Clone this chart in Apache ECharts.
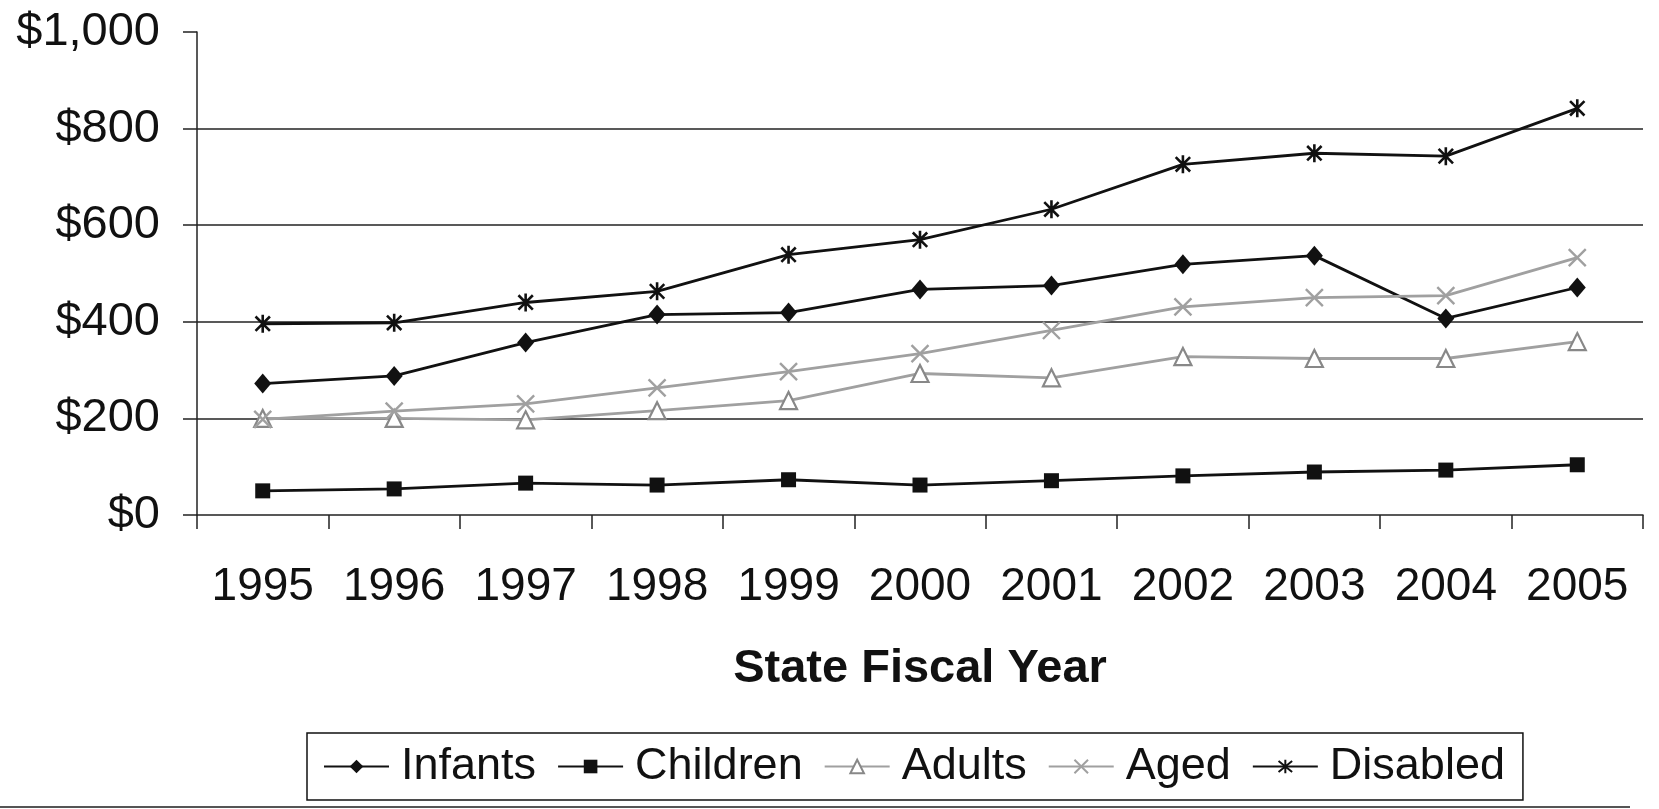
<!DOCTYPE html>
<html>
<head>
<meta charset="utf-8">
<title>Cost per Member by Eligibility Group</title>
<script src="https://cdn.jsdelivr.net/npm/echarts@6/dist/echarts.min.js"></script>
<style>
  html, body { margin: 0; padding: 0; background: #ffffff; }
  #chart { width: 1659px; height: 809px; }
</style>
</head>
<body>
<div id="chart"></div>
<script>
// State fiscal years on the category axis
const years = ['1995', '1996', '1997', '1998', '1999', '2000', '2001', '2002', '2003', '2004', '2005'];

// Monthly cost per eligible, dollars
const infants  = [272, 288, 357, 415, 419, 467, 475, 519, 537, 407, 471];
const children = [50, 54, 66, 62, 73, 62, 71, 81, 89, 93, 104];
const adults   = [200, 200, 197, 216, 237, 293, 284, 328, 324, 324, 359];
const aged     = [198, 215, 230, 263, 297, 334, 382, 431, 450, 454, 533];
const disabled = [396, 398, 440, 463, 539, 570, 633, 726, 749, 743, 842];

const FONT = '"Liberation Sans", Arial, Helvetica, sans-serif';
const BLACK = '#111111';
const GRAY = '#a0a0a0';

// Stroke-only marker shapes
const X_MARK = 'path://M0,0L16,16M16,0L0,16';
const STAR_MARK = 'path://M0,0L16,16M16,0L0,16M8,-2L8,18';

function lineSeries(name, data, color, width, symbol, size, itemStyle) {
  return {
    name: name,
    type: 'line',
    data: data,
    symbol: symbol,
    symbolSize: size,
    symbolKeepAspect: true,
    showSymbol: true,
    lineStyle: { color: color, width: width },
    itemStyle: itemStyle,
    emphasis: { disabled: true },
    z: 3
  };
}

const chart = echarts.init(document.getElementById('chart'), null, { renderer: 'canvas' });

chart.setOption({
  animation: false,
  backgroundColor: '#ffffff',
  textStyle: { fontFamily: FONT },
  grid: { left: 197, right: 16, top: 32, bottom: 294, containLabel: false },
  xAxis: {
    type: 'category',
    data: years,
    boundaryGap: true,
    name: 'State Fiscal Year',
    nameLocation: 'middle',
    nameGap: 131,
    nameTextStyle: { fontFamily: FONT, fontSize: 47, fontWeight: 'bold', color: '#111' },
    axisLine: { show: true, lineStyle: { color: '#222', width: 1.5 } },
    axisTick: { show: true, inside: false, length: 14, alignWithLabel: false, lineStyle: { color: '#222', width: 1.5 } },
    axisLabel: { fontFamily: FONT, fontSize: 46, color: '#111', margin: 49, interval: 0 },
    splitLine: { show: false }
  },
  yAxis: {
    type: 'value',
    min: 0,
    max: 1000,
    interval: 200,
    axisLine: { show: true, lineStyle: { color: '#222', width: 1.5 } },
    axisTick: { show: true, inside: false, length: 14, lineStyle: { color: '#222', width: 1.5 } },
    axisLabel: {
      fontFamily: FONT, fontSize: 47, color: '#111', margin: 37,
      formatter: function (v) { return '$' + v.toLocaleString('en-US'); }
    },
    splitLine: { show: true, showMinLine: false, showMaxLine: false, lineStyle: { color: '#222', width: 1.5 } }
  },
  legend: {
    left: 307,
    top: 733,
    orient: 'horizontal',
    padding: [11, 18, 11, 16],
    borderColor: '#111',
    borderWidth: 1.5,
    itemWidth: 65,
    itemHeight: 17,
    itemGap: 21,
    textStyle: { fontFamily: FONT, fontSize: 45, color: '#111', padding: [0, 0, 0, 7] },
    data: ['Infants', 'Children', 'Adults', 'Aged', 'Disabled']
  },
  series: [
    lineSeries('Infants', infants, BLACK, 2.8, 'diamond', [17, 20],
      { color: BLACK, borderColor: BLACK, borderWidth: 0 }),
    lineSeries('Children', children, BLACK, 2.8, 'rect', 15,
      { color: BLACK, borderColor: BLACK, borderWidth: 0 }),
    lineSeries('Adults', adults, GRAY, 2.8, 'triangle', 17,
      { color: '#ffffff', borderColor: '#888888', borderWidth: 2.2 }),
    lineSeries('Aged', aged, GRAY, 2.8, X_MARK, 17,
      { color: GRAY, borderColor: GRAY, borderWidth: 2.4 }),
    lineSeries('Disabled', disabled, BLACK, 2.8, STAR_MARK, 18,
      { color: BLACK, borderColor: BLACK, borderWidth: 2.6 })
  ],
  graphic: [
    {
      type: 'line',
      shape: { x1: 0, y1: 807, x2: 1630, y2: 807 },
      style: { stroke: '#555', lineWidth: 2 },
      silent: true
    }
  ]
});
</script>
</body>
</html>
